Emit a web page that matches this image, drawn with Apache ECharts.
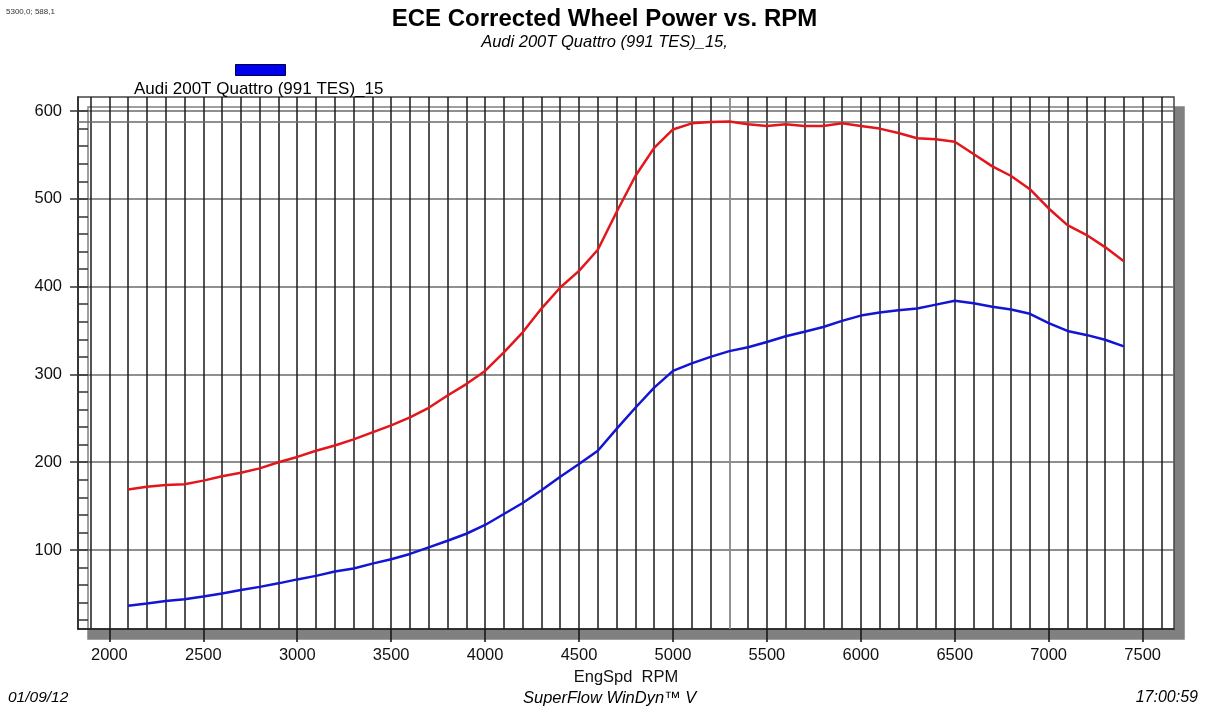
<!DOCTYPE html>
<html lang="en">

<head>
    <meta charset="UTF-8">
    <title>ECE Corrected Wheel Power vs. RPM</title>
    <script src="https://cdn.jsdelivr.net/npm/echarts@6/dist/echarts.min.js"></script>
    <style>
        html,
        body {
            margin: 0;
            padding: 0;
            background-color: #fff;
        }

        #pic {
            width: 1209px;
            height: 707px;
        }
    </style>
</head>

<body>
    <div id="pic"></div>

    <script>
        // engine speed of each run point
        const rpm = [2100, 2200, 2300, 2400, 2500, 2600, 2700, 2800, 2900, 3000,
            3100, 3200, 3300, 3400, 3500, 3600, 3700, 3800, 3900, 4000,
            4100, 4200, 4300, 4400, 4500, 4600, 4700, 4800, 4900, 5000,
            5100, 5200, 5300, 5400, 5500, 5600, 5700, 5800, 5900, 6000,
            6100, 6200, 6300, 6400, 6500, 6600, 6700, 6800, 6900, 7000,
            7100, 7200, 7300, 7400];

        // red curve
        const redValues = [169, 172, 174, 175, 179, 184, 188, 193, 200, 206,
            213, 219, 226, 234, 242, 251, 262, 276, 289, 304,
            325, 348, 375, 399, 418, 442, 485, 526, 558, 579,
            586, 587.5, 588.1, 585, 583, 585, 583, 583, 586, 583,
            580, 575, 569, 568, 565, 551, 537, 526, 511, 489,
            470, 459, 445, 429];

        // blue curve
        const blueValues = [36.5, 39, 42, 44, 47, 50.5, 54.5, 58, 62, 66.5,
            70.5, 75.5, 79, 84.5, 89.5, 95.5, 103, 110.5, 118.5, 128.5,
            141, 153.5, 168, 183.5, 198, 213, 238, 262, 285, 304,
            312.5, 320, 326.5, 331, 337, 343.5, 348.5, 354, 361, 367,
            370.5, 373, 375, 379.5, 384, 381, 377, 374, 369, 358.5,
            349.5, 345, 339.5, 332];

        const xLabels = [2000, 2500, 3000, 3500, 4000, 4500, 5000, 5500, 6000, 6500, 7000, 7500];
        const yLabels = [100, 200, 300, 400, 500, 600];
        const runName = 'Audi 200T Quattro (991 TES)_15';
        const cursor = { rpm: 5300, value: 588.1 };

        // grid lines every 100 rpm, minor y ticks every 20
        const xGrid = [];
        for (let r = 1900; r <= 7600; r += 100) xGrid.push(r);
        const yMinor = [];
        for (let v = 20; v <= 600; v += 20) yMinor.push(v);

        const font = '"Liberation Sans", Arial, sans-serif';
        const plain = v => String(v);

        var myChart = echarts.init(document.getElementById('pic'));

        var option = {
            animation: false,
            textStyle: { fontFamily: font },
            title: [{
                text: 'ECE Corrected Wheel Power vs. RPM',
                subtext: runName + ',',
                left: 'center',
                top: 7,
                itemGap: 3,
                padding: 0,
                textStyle: { fontSize: 24, fontWeight: 'bold', color: '#000', fontFamily: font },
                subtextStyle: { fontSize: 16.5, fontStyle: 'italic', color: '#000', fontFamily: font }
            }, {
                text: '5300,0; 588,1',
                left: 6,
                top: 8,
                padding: 0,
                textStyle: { fontSize: 8, fontWeight: 'normal', color: '#333', fontFamily: font }
            }, {
                text: '01/09/12',
                left: 8,
                top: 690,
                padding: 0,
                textStyle: { fontSize: 15.5, fontWeight: 'normal', fontStyle: 'italic', color: '#000', fontFamily: font }
            }, {
                text: 'SuperFlow WinDyn\u2122 V',
                left: 523,
                top: 690,
                padding: 0,
                textStyle: { fontSize: 16.5, fontWeight: 'normal', fontStyle: 'italic', color: '#000', fontFamily: font }
            }, {
                text: '17:00:59',
                right: 11,
                top: 690,
                padding: 0,
                textStyle: { fontSize: 16, fontWeight: 'normal', fontStyle: 'italic', color: '#000', fontFamily: font }
            }],
            legend: [{
                // colour swatch
                left: 235,
                top: 64,
                padding: 0,
                selectedMode: false,
                icon: 'rect',
                itemWidth: 50,
                itemHeight: 11,
                itemStyle: { color: '#0000ee', borderColor: '#000044', borderWidth: 1 },
                formatter: () => '',
                data: [runName]
            }, {
                // run name under the swatch
                left: 129,
                top: 81,
                padding: 0,
                selectedMode: false,
                icon: 'none',
                itemWidth: 0,
                itemHeight: 14,
                textStyle: { fontSize: 17, color: '#000', fontFamily: font },
                data: [runName]
            }],
            grid: {
                left: 78,
                top: 97,
                width: 1096,
                height: 532,
                show: true,
                backgroundColor: '#fff',
                borderColor: '#444',
                borderWidth: 1.5,
                shadowColor: '#808080',
                shadowBlur: 0,
                shadowOffsetX: 10,
                shadowOffsetY: 10
            },
            xAxis: [{
                type: 'value',
                position: 'bottom',
                min: 1833,
                max: 7667,
                name: 'EngSpd  RPM',
                nameLocation: 'middle',
                nameGap: 37,
                nameTextStyle: { fontSize: 16.5, color: '#111', fontFamily: font },
                axisLine: { show: true, lineStyle: { color: '#222', width: 1.5 } },
                axisTick: { show: true, customValues: xLabels, length: 13, lineStyle: { color: '#111', width: 1.5 } },
                axisLabel: { customValues: xLabels, formatter: plain, fontSize: 16.5, margin: 18, color: '#111', fontFamily: font },
                splitLine: { show: false }
            }, {
                type: 'value',
                position: 'top',
                min: 1833,
                max: 7667,
                axisLine: { show: false },
                axisTick: { show: false, customValues: xGrid },
                axisLabel: { show: false },
                splitLine: { show: true, lineStyle: { color: '#1a1a1a', width: 1.5 } }
            }],
            yAxis: [{
                type: 'value',
                position: 'left',
                min: 10,
                max: 616,
                axisLine: { show: true, lineStyle: { color: '#222', width: 1.5 } },
                axisTick: { show: true, customValues: yLabels, length: 8, lineStyle: { color: '#333', width: 1.5 } },
                axisLabel: { customValues: yLabels, formatter: plain, fontSize: 16.5, margin: 16, color: '#111', fontFamily: font },
                splitLine: { show: true, lineStyle: { color: '#6a6a6a', width: 1.5 } }
            }, {
                type: 'value',
                position: 'left',
                min: 10,
                max: 616,
                axisLine: { show: false },
                axisTick: { show: true, inside: true, customValues: yMinor, length: 10, lineStyle: { color: '#333', width: 1.5 } },
                axisLabel: { show: false },
                splitLine: { show: false }
            }],
            series: [{
                name: 'Power',
                type: 'line',
                xAxisIndex: 0,
                yAxisIndex: 0,
                symbol: 'none',
                data: rpm.map((r, i) => [r, redValues[i]]),
                lineStyle: { color: '#e3161c', width: 2.5 },
                itemStyle: { color: '#e3161c' },
                z: 5,
                markLine: {
                    silent: true,
                    symbol: 'none',
                    label: { show: false },
                    animation: false,
                    data: [
                        { xAxis: cursor.rpm, lineStyle: { color: '#a8a8a8', width: 1.5, type: 'solid' } },
                        { yAxis: cursor.value, lineStyle: { color: '#6a6a6a', width: 1.5, type: 'solid' } }
                    ]
                }
            }, {
                name: runName,
                type: 'line',
                xAxisIndex: 0,
                yAxisIndex: 0,
                symbol: 'none',
                data: rpm.map((r, i) => [r, blueValues[i]]),
                lineStyle: { color: '#1414d4', width: 2.5 },
                itemStyle: { color: '#1414d4' },
                z: 5
            }]
        };

        myChart.setOption(option);
    </script>
</body>

</html>
